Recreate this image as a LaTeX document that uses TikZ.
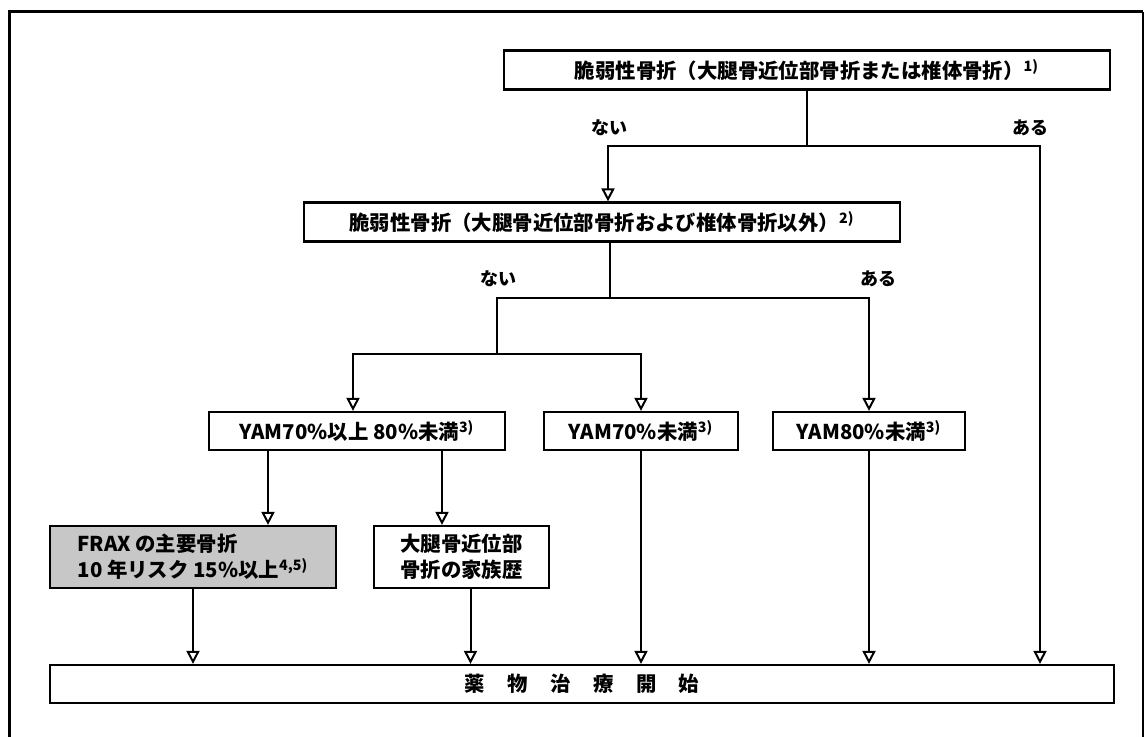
\documentclass[tikz,border=0pt]{standalone}
\usepackage{fontspec}
\setmainfont{Noto Sans CJK JP}
\usetikzlibrary{arrows.meta, calc}

\tikzset{
    box/.style={draw, line width=1.1pt, inner sep=0pt, minimum height=19.5pt,
        font=\bfseries\fontsize{10.2}{13}\selectfont},
    conn/.style={line width=1pt},
    arr/.style={line width=1pt, -{Triangle[open, length=6.5pt, width=6.5pt]}},
    lbl/.style={font=\bfseries\fontsize{9}{11}\selectfont},
}

\begin{document}
\begin{tikzpicture}[x=0.5pt, y=-0.5pt]
    \useasboundingbox (0,0) rectangle (1145,737);
    \draw[line width=1.5pt] (9,737) -- (9,12) -- (1143,12);
    \draw[line width=0.8pt] (1143,12) -- (1143,737);

    % boxes
    \node[box, minimum width=303pt] (b1) at (807,70)
        {脆弱性骨折（大腿骨近位部骨折または椎体骨折）\textsuperscript{1)}};
    \node[box, minimum width=298pt] (b2) at (602,222)
        {脆弱性骨折（大腿骨近位部骨折および椎体骨折以外）\textsuperscript{2)}};
    \node[box, minimum width=148pt, minimum height=19pt] (y1) at (357,431)
        {YAM70\%以上 80\%未満\textsuperscript{3)}};
    \node[box, minimum width=97pt, minimum height=19pt] (y2) at (641,431)
        {YAM70\%未満\textsuperscript{3)}};
    \node[box, minimum width=96pt, minimum height=19pt] (y3) at (869,431)
        {YAM80\%未満\textsuperscript{3)}};
    \node[box, fill=black!22, minimum width=143pt, minimum height=31pt,
        align=left] (frax) at (193,557)
        {FRAX の主要骨折\\ 10 年リスク 15\%以上\textsuperscript{4,5)}};
    \node[box, minimum width=87.5pt, minimum height=31pt, align=center] (fam) at (461.5,557)
        {大腿骨近位部\\骨折の家族歴};
    \node[box, minimum width=532pt, minimum height=19pt] (start) at (582,684)
        {薬\hspace{1.1em}物\hspace{1.1em}治\hspace{1.1em}療\hspace{1.1em}開\hspace{1.1em}始};

    % branches
    \coordinate (j1) at (807,146);
    \coordinate (j2) at (610,298);
    \coordinate (j3) at (497,354);
    \draw[conn] (b1.south) -- (j1);
    \draw[arr] (j1) -| ($(b2.north)+(6,0)$);
    \draw[arr] (j1) -| ($(start.north)+(458,0)$);
    \node[lbl] (no1) at (609,128) {ない};
    \node[lbl] (yes1) at (1030,128) {ある};

    \draw[conn] ($(b2.south)+(8,0)$) -- (j2);
    \draw[arr] (j2) -| (y3.north);
    \draw[conn] (j2) -| (j3);
    \draw[arr] (j3) -| ($(y1.north)+(-4,0)$);
    \draw[arr] (j3) -| (y2.north);
    \node[lbl] (no2) at (498,279) {ない};
    \node[lbl] (yes2) at (878,279) {ある};

    \draw[arr] ($(y1.south)+(-89,0)$) -- ($(frax.north)+(75,0)$);
    \draw[arr] ($(y1.south)+(85,0)$) -- ($(fam.north)+(-19.5,0)$);

    \foreach \n/\dx in {frax/0, fam/9, y2/0, y3/0}
        \draw[arr] ($(\n.south)+(\dx,0)$) -- ($(\n.south |- start.north)+(\dx,0)$);
\end{tikzpicture}
\end{document}
